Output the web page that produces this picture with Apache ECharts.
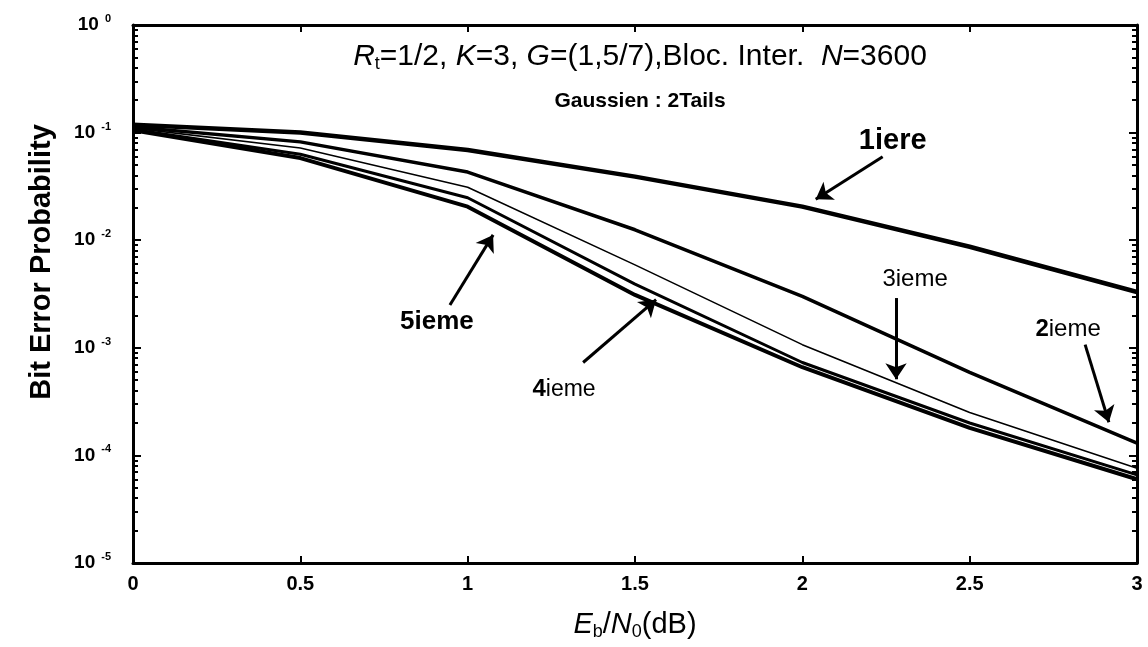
<!DOCTYPE html>
<html>
<head>
    <meta charset="utf-8">
    <script src="https://cdn.jsdelivr.net/npm/echarts@6/dist/echarts.min.js"></script>
</head>
<body style="margin:0;background:#fff;">
    <div id="main" style="width: 1148px;height:647px;"></div>
    <script type="text/javascript">

    // Eb/N0 (dB) and bit error probability per iteration
    var ebn0 = [0, 0.5, 1, 1.5, 2, 2.5, 3];
    var iter1 = [0.118, 0.100, 0.069, 0.039, 0.0205, 0.0087, 0.0033];
    var iter2 = [0.113, 0.082, 0.043, 0.0125, 0.0030, 0.00059, 0.00013];
    var iter3 = [0.110, 0.072, 0.031, 0.0059, 0.00107, 0.00025, 0.000076];
    var iter4 = [0.107, 0.063, 0.0248, 0.0039, 0.00073, 0.00020, 0.000066];
    var iter5 = [0.105, 0.058, 0.0205, 0.0031, 0.00066, 0.00018, 0.00006];

    var decades = [-5, -4, -3, -2, -1, 0];

    // annotations: text anchor and arrow [tail, head] in data space
    var notes = [
        {text: '{B|1iere}', at: [2.27, 0.084], arrow: [[2.24, 0.0596], [2.04, 0.024]]},
        {text: '{n|3ieme}', at: [2.337, 0.0043], arrow: [[2.28, 0.0029], [2.28, 0.00051]]},
        {text: '{b|2}{n|ieme}', at: [2.794, 0.00148], arrow: [[2.845, 0.00107], [2.916, 0.000203]]},
        {text: '{b5|5ieme}', at: [0.908, 0.00173], arrow: [[0.947, 0.0025], [1.076, 0.0112]]},
        {text: '{b|4}{n4|ieme}', at: [1.288, 0.00041], arrow: [[1.345, 0.00073], [1.563, 0.0028]]}
    ];

    function pairs(ys) {
        return ebn0.map(function (x, i) { return [x, ys[i]]; });
    }

    var minorTicks = [];
    decades.slice(0, -1).forEach(function (d) {
        for (var k = 2; k <= 9; k++) {
            minorTicks.push(d + Math.log10(k));
        }
    });

    var font = 'Liberation Sans';
    var myChart = echarts.init(document.getElementById('main'));

    function curve(name, ys, w) {
        return {
            name: name,
            type: 'line',
            data: pairs(ys),
            symbol: 'none',
            lineStyle: {color: '#000', width: w},
            z: 3
        };
    }

    var labelRich = {
        B: {fontFamily: font, fontSize: 29, fontWeight: 'bold', color: '#000'},
        b5: {fontFamily: font, fontSize: 26, fontWeight: 'bold', color: '#000'},
        b: {fontFamily: font, fontSize: 24, fontWeight: 'bold', color: '#000'},
        n: {fontFamily: font, fontSize: 24, color: '#000'},
        n4: {fontFamily: font, fontSize: 23, color: '#000'}
    };

    var annot = {
        type: 'line',
        data: [],
        silent: true,
        markLine: {
            silent: true,
            symbol: ['none', 'arrow'],
            symbolSize: 16,
            label: {show: false},
            lineStyle: {color: '#000', width: 3, type: 'solid'},
            data: notes.map(function (n) {
                return [{coord: n.arrow[0]}, {coord: n.arrow[1]}];
            })
        },
        markPoint: {
            silent: true,
            symbol: 'circle',
            symbolSize: 0,
            label: {show: true, position: 'inside', rich: labelRich},
            data: notes.map(function (n) {
                return {coord: n.at, label: {formatter: n.text}};
            })
        }
    };

    var tickStyle = {color: '#000', width: 2};
    var frameLine = {onZero: false, lineStyle: {color: '#000', width: 3}};

    myChart.setOption({
        animation: false,
        title: [{
            text: '{i|R}{sub|t}{n|=1/2, }{i|K}{n|=3, }{i|G}{n|=(1,5/7),Bloc. Inter.  }{i|N}{n|=3600}',
            left: 635,
            top: 36,
            textAlign: 'center',
            textStyle: {
                fontWeight: 'normal',
                rich: {
                    i: {fontFamily: font, fontSize: 30, fontStyle: 'italic', fontWeight: 'normal', color: '#000'},
                    n: {fontFamily: font, fontSize: 30, fontWeight: 'normal', color: '#000'},
                    sub: {fontFamily: font, fontSize: 18, fontWeight: 'normal', color: '#000', padding: [14, 0, 0, 0]}
                }
            }
        }, {
            text: 'Gaussien : 2Tails',
            left: 635,
            top: 86,
            textAlign: 'center',
            textStyle: {fontFamily: font, fontSize: 21, fontWeight: 'bold', color: '#000'}
        }],
        grid: {left: 133, right: 11, top: 25, bottom: 84},
        xAxis: [{
            type: 'value',
            min: 0,
            max: 3,
            interval: 0.5,
            name: '{i|E}{sub|b}{n|/}{i|N}{sub|0}{n|(dB)}',
            nameLocation: 'middle',
            nameGap: 46,
            nameTextStyle: {
                rich: {
                    i: {fontFamily: font, fontSize: 29, fontStyle: 'italic', color: '#000'},
                    n: {fontFamily: font, fontSize: 29, color: '#000'},
                    sub: {fontFamily: font, fontSize: 18, color: '#000', padding: [14, 0, 0, 0]}
                }
            },
            axisLine: frameLine,
            axisTick: {inside: true, length: 7, lineStyle: tickStyle},
            axisLabel: {fontFamily: font, fontSize: 20, fontWeight: 'bold', color: '#000', margin: 11},
            splitLine: {show: false}
        }, {
            type: 'value',
            position: 'top',
            min: 0,
            max: 3,
            interval: 0.5,
            axisLine: frameLine,
            axisTick: {inside: true, length: 7, lineStyle: tickStyle},
            axisLabel: {show: false},
            splitLine: {show: false}
        }],
        yAxis: [{
            type: 'log',
            logBase: 10,
            min: 1e-5,
            max: 1,
            name: 'Bit Error Probability',
            nameLocation: 'middle',
            nameGap: 77,
            nameTextStyle: {fontFamily: font, fontSize: 29, fontWeight: 'bold', color: '#000', padding: [0, 0, 0, 64]},
            axisLine: frameLine,
            axisTick: {inside: true, length: 8, lineStyle: tickStyle},
            axisLabel: {
                margin: 22,
                formatter: function (v) {
                    return '{b|10}{s|' + Math.round(Math.log10(v)) + '}';
                },
                rich: {
                    b: {fontFamily: font, fontSize: 19, fontWeight: 'bold', color: '#000'},
                    s: {fontFamily: font, fontSize: 11, fontWeight: 'bold', color: '#000', padding: [0, 0, 12, 6]}
                }
            },
            splitLine: {show: false}
        }, {
            type: 'log',
            logBase: 10,
            min: 1e-5,
            max: 1,
            position: 'right',
            axisLine: frameLine,
            axisTick: {inside: true, length: 8, lineStyle: tickStyle},
            axisLabel: {show: false},
            splitLine: {show: false}
        }, {
            type: 'value',
            min: -5,
            max: 0,
            position: 'left',
            axisLine: {show: false, onZero: false},
            axisTick: {inside: true, length: 5, customValues: minorTicks, lineStyle: tickStyle},
            axisLabel: {show: false},
            splitLine: {show: false}
        }, {
            type: 'value',
            min: -5,
            max: 0,
            position: 'right',
            axisLine: {show: false, onZero: false},
            axisTick: {inside: true, length: 5, customValues: minorTicks, lineStyle: tickStyle},
            axisLabel: {show: false},
            splitLine: {show: false}
        }],
        series: [
            curve('1iere', iter1, 4.5),
            curve('2ieme', iter2, 3.5),
            curve('3ieme', iter3, 1.6),
            curve('4ieme', iter4, 3),
            curve('5ieme', iter5, 4),
            annot
        ]
    });

</script>
</body>
</html>
